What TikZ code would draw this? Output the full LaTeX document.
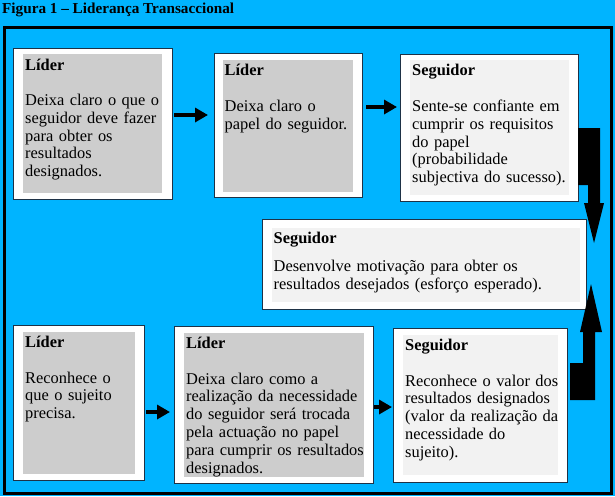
\documentclass[tikz,border=0pt]{standalone}
\usepackage{fontspec}
\setmainfont{Liberation Serif}
\usetikzlibrary{arrows.meta}
\definecolor{bgcyan}{RGB}{0,180,255}
\definecolor{lidergrey}{RGB}{205,205,205}
\definecolor{seggrey}{RGB}{242,242,242}
\definecolor{boxline}{RGB}{30,50,70}
\begin{document}
\begin{tikzpicture}[x=1pt,y=-1pt,
  outerbox/.style={draw=boxline,line width=1.3pt,fill=white,inner sep=0pt,anchor=north west},
  innerlider/.style={fill=lidergrey,inner sep=0pt,anchor=north west},
  innerseg/.style={fill=seggrey,inner sep=0pt,anchor=north west},
  headtxt/.style={anchor=base west,inner sep=0pt,font=\fontsize{16.4}{17.8}\selectfont\bfseries},
  bodytxt/.style={anchor=base west,inner sep=0pt,text width=#1,align=left,font=\fontsize{16.4}{17.8}\selectfont},
  smallarrow/.style={line width=4.5pt,-{Triangle[length=13pt,width=14pt]}},
  blockarrow/.style={fill=black}
]
\fill[bgcyan] (0,0) rectangle (615,496);
\useasboundingbox (0,0) rectangle (615,496);
\node[anchor=base west,inner sep=0pt,font=\fontsize{15.2}{18}\selectfont\bfseries] (title) at (2,13.5) {Figura 1 – Liderança Transaccional};
\draw[line width=3pt] (4,27.5) rectangle (611,493);

% box 1
\node[outerbox,minimum width=159pt,minimum height=151pt] (b1) at (13,48) {};
\node[innerlider,minimum width=139.5pt,minimum height=139pt] (g1) at (22.5,54) {};
\node[headtxt] (h1) at (25,70) {Líder};
\node[bodytxt=140pt] (t1) at (25,105.5) {Deixa claro o que o\\seguidor deve fazer\\para obter os\\resultados\\designados.};

% box 2
\node[outerbox,minimum width=148pt,minimum height=144pt] (b2) at (214,53) {};
\node[innerlider,minimum width=130pt,minimum height=132pt] (g2) at (223,60) {};
\node[headtxt] (h2) at (224.5,75.5) {Líder};
\node[bodytxt=130pt] (t2) at (224.5,111.5) {Deixa claro o\\papel do seguidor.};

% box 3
\node[outerbox,minimum width=178pt,minimum height=147pt] (b3) at (400,54) {};
\node[innerseg,minimum width=159pt,minimum height=135pt] (g3) at (410,60) {};
\node[headtxt] (h3) at (412,75.5) {Seguidor};
\node[bodytxt=160pt] (t3) at (412,111.5) {Sente-se confiante em\\cumprir os requisitos\\do papel\\(probabilidade\\subjectiva do sucesso).};

% box 4
\node[outerbox,minimum width=324pt,minimum height=90pt] (b4) at (262,219) {};
\node[innerseg,minimum width=308pt,minimum height=74pt] (g4) at (272,228) {};
\node[headtxt] (h4) at (273.5,243) {Seguidor};
\node[bodytxt=310pt] (t4) at (273.5,271.5) {Desenvolve motivação para obter os\\resultados desejados (esforço esperado).};

% box 5
\node[outerbox,minimum width=131pt,minimum height=155pt] (b5) at (13,325) {};
\node[innerlider,minimum width=112pt,minimum height=142pt] (g5) at (23,332) {};
\node[headtxt] (h5) at (25,347) {Líder};
\node[bodytxt=112pt] (t5) at (25,383) {Reconhece o\\que o sujeito\\precisa.};

% box 6
\node[outerbox,minimum width=199pt,minimum height=157pt] (b6) at (174,326) {};
\node[innerlider,minimum width=180pt,minimum height=144pt] (g6) at (184,333) {};
\node[headtxt] (h6) at (186,348) {Líder};
\node[bodytxt=185pt] (t6) at (186,384) {Deixa claro como a\\realização da necessidade\\do seguidor será trocada\\pela actuação no papel\\para cumprir os resultados\\designados.};

% box 7
\node[outerbox,minimum width=174pt,minimum height=154pt] (b7) at (393,328) {};
\node[innerseg,minimum width=155pt,minimum height=140pt] (g7) at (403,335) {};
\node[headtxt] (h7) at (405,350) {Seguidor};
\node[bodytxt=160pt] (t7) at (405,386) {Reconhece o valor dos\\resultados designados\\(valor da realização da\\necessidade do\\sujeito).};

% small arrows
\draw[smallarrow,shorten <=1pt,shorten >=6pt] (b1.east |- 0,115) -- (b2.west |- 0,115);
\draw[smallarrow,shorten <=3pt,shorten >=3pt] (b2.east |- 0,107) -- (b3.west |- 0,107);
\draw[smallarrow,shorten <=1pt,shorten >=4pt] (b5.east |- 0,412) -- (b6.west |- 0,412);
\draw[smallarrow,shorten >=1pt] (b6.east |- 0,407) -- (b7.west |- 0,407);

% block arrows
\fill[blockarrow] (578,128) -- (600,128) -- (600,203) -- (604,203) -- (594,243) -- (584,203) -- (588,203) -- (588,185) -- (578,185) -- cycle;
\fill[blockarrow] (570,400) -- (595,400) -- (595,332) -- (602,332) -- (591,284) -- (580,332) -- (583,332) -- (583,363) -- (570,363) -- cycle;
\end{tikzpicture}
\end{document}
